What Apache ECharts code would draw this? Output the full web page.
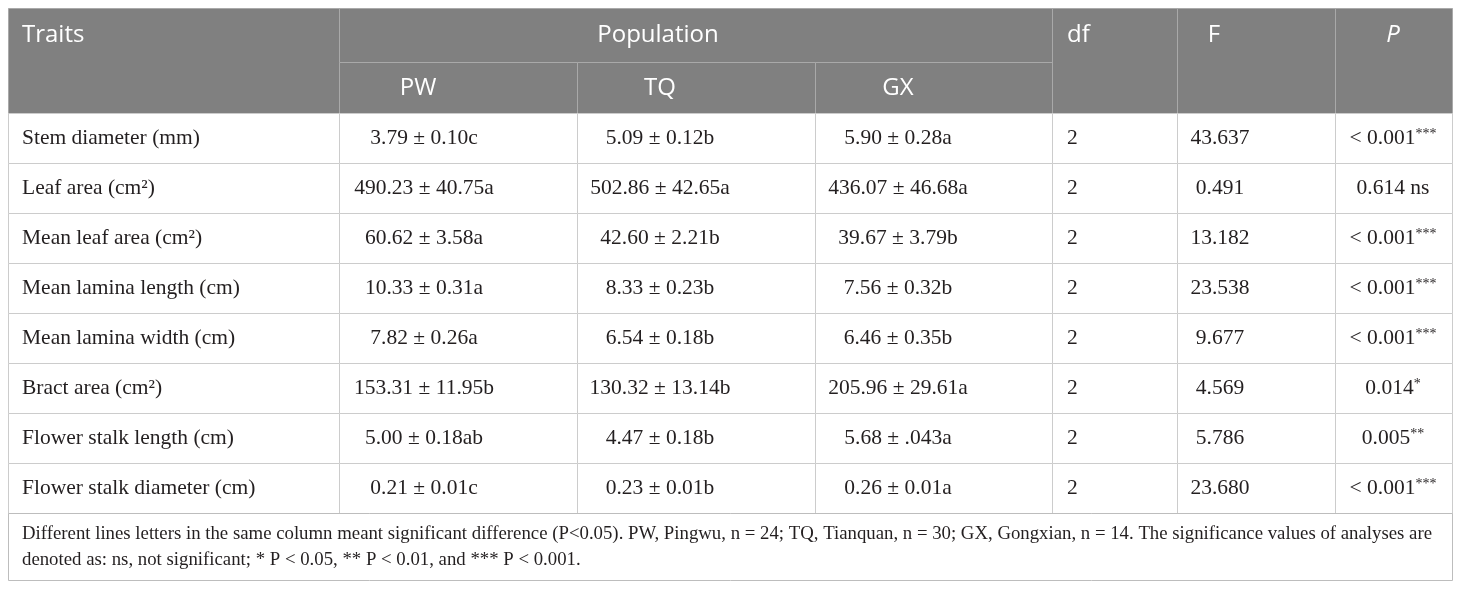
<!DOCTYPE html>
<html>
<head>
<meta charset="utf-8">
<script src="https://cdn.jsdelivr.net/npm/echarts@6/dist/echarts.min.js"></script>
<style>
  html, body { margin: 0; padding: 0; background: #fff; }
  #main { width: 1460px; height: 589px; }
</style>
</head>
<body>
<div id="main"></div>
<script>
// table content
var traits = ['Stem diameter (mm)', 'Leaf area (cm²)', 'Mean leaf area (cm²)', 'Mean lamina length (cm)',
  'Mean lamina width (cm)', 'Bract area (cm²)', 'Flower stalk length (cm)', 'Flower stalk diameter (cm)'];
var pw = ['3.79 ± 0.10c', '490.23 ± 40.75a', '60.62 ± 3.58a', '10.33 ± 0.31a', '7.82 ± 0.26a', '153.31 ± 11.95b', '5.00 ± 0.18ab', '0.21 ± 0.01c'];
var tq = ['5.09 ± 0.12b', '502.86 ± 42.65a', '42.60 ± 2.21b', '8.33 ± 0.23b', '6.54 ± 0.18b', '130.32 ± 13.14b', '4.47 ± 0.18b', '0.23 ± 0.01b'];
var gx = ['5.90 ± 0.28a', '436.07 ± 46.68a', '39.67 ± 3.79b', '7.56 ± 0.32b', '6.46 ± 0.35b', '205.96 ± 29.61a', '5.68 ± .043a', '0.26 ± 0.01a'];
var df = ['2', '2', '2', '2', '2', '2', '2', '2'];
var fValues = ['43.637', '0.491', '13.182', '23.538', '9.677', '4.569', '5.786', '23.680'];
var pValues = ['< 0.001', '0.614 ns', '< 0.001', '< 0.001', '< 0.001', '0.014', '0.005', '< 0.001'];
var pStars = ['***', '', '***', '***', '***', '*', '**', '***'];
var headers = ['Traits', 'Population', 'PW', 'TQ', 'GX', 'df', 'F', 'P'];
var footnote = [
  'Different lines letters in the same column meant significant difference (P<0.05). PW, Pingwu, n = 24; TQ, Tianquan, n = 30; GX, Gongxian, n = 14. The significance values of analyses are',
  'denoted as: ns, not significant; * P < 0.05, ** P < 0.01, and *** P < 0.001.'
];

// layout (in axis units = pixels)
var colEdges = [8, 339, 577, 815, 1052, 1177, 1335, 1452];
var textX = [22, 424, 660, 898, 1067, 1220, 1393];
var textAlign = ['left', 'center', 'center', 'center', 'left', 'center', 'center'];
var headTop = 8, headMid = 62, headBottom = 113, rowH = 50, tableBottom = 580;

var sansFont = '"Open Sans", "Noto Sans", sans-serif';
var serifFont = '"Liberation Serif", "DejaVu Serif", serif';

var cells = [];
function headCell(x0, y0, x1, y1, text, tx, ty, align, italic) {
  cells.push({ x0: x0, y0: y0, x1: x1, y1: y1, text: text, tx: tx, ty: ty, align: align,
    fill: '#808080', stroke: '#a9a9a9', color: '#ffffff',
    font: (italic ? 'italic ' : '') + '24px ' + sansFont });
}
headCell(colEdges[0], headTop, colEdges[1], headBottom, headers[0], textX[0], 35, 'left');
headCell(colEdges[1], headTop, colEdges[4], headMid, headers[1], 658, 35, 'center');
headCell(colEdges[1], headMid, colEdges[2], headBottom, headers[2], textX[1] - 6, 88, 'center');
headCell(colEdges[2], headMid, colEdges[3], headBottom, headers[3], textX[2], 88, 'center');
headCell(colEdges[3], headMid, colEdges[4], headBottom, headers[4], textX[3], 88, 'center');
headCell(colEdges[4], headTop, colEdges[5], headBottom, headers[5], textX[4], 35, 'left');
headCell(colEdges[5], headTop, colEdges[6], headBottom, headers[6], 1214, 35, 'center');
headCell(colEdges[6], headTop, colEdges[7], headBottom, headers[7], textX[6], 35, 'center', true);

traits.forEach(function (name, i) {
  var y0 = headBottom + i * rowH;
  var row = [name, pw[i], tq[i], gx[i], df[i], fValues[i],
    pValues[i] + (pStars[i] ? '{s|' + pStars[i] + '}' : '')];
  row.forEach(function (txt, j) {
    cells.push({ x0: colEdges[j], y0: y0, x1: colEdges[j + 1], y1: y0 + rowH, text: txt,
      tx: textX[j], ty: y0 + rowH / 2, align: textAlign[j],
      fill: '#ffffff', stroke: '#cccccc', color: '#231f20', font: '21.5px ' + serifFont });
  });
});
var footTop = headBottom + traits.length * rowH;
cells.push({ x0: colEdges[0], y0: footTop, x1: colEdges[7], y1: tableBottom, text: footnote.join('\n'),
  tx: 22, ty: (footTop + tableBottom) / 2 + 1, align: 'left', lineHeight: 26,
  fill: '#ffffff', stroke: '#bdbdbd', color: '#231f20', font: '18.8px ' + serifFont });

var myChart = echarts.init(document.getElementById('main'));
myChart.setOption({
  animation: false,
  grid: { left: 0, right: 0, top: 0, bottom: 0 },
  xAxis: { type: 'value', min: 0, max: 1460, show: false },
  yAxis: { type: 'value', min: 0, max: 589, inverse: true, show: false },
  series: [{
    type: 'custom',
    coordinateSystem: 'cartesian2d',
    data: cells.map(function (c) { return [c.x0, c.y0, c.x1, c.y1]; }),
    renderItem: function (params, api) {
      var c = cells[params.dataIndex];
      var p0 = api.coord([api.value(0), api.value(1)]);
      var p1 = api.coord([api.value(2), api.value(3)]);
      var t = api.coord([c.tx, c.ty]);
      return {
        type: 'group',
        children: [{
          type: 'rect',
          shape: { x: Math.round(p0[0]) + 0.5, y: Math.round(p0[1]) + 0.5,
            width: Math.round(p1[0] - p0[0]), height: Math.round(p1[1] - p0[1]) },
          style: { fill: c.fill, stroke: c.stroke, lineWidth: 1 }
        }, {
          type: 'text',
          style: {
            x: t[0], y: t[1], text: c.text, align: c.align, verticalAlign: 'middle',
            fill: c.color, font: c.font, lineHeight: c.lineHeight,
            rich: { s: { fontSize: 14, fontFamily: serifFont, verticalAlign: 'top', fill: c.color } }
          }
        }]
      };
    }
  }]
});
</script>
</body>
</html>
